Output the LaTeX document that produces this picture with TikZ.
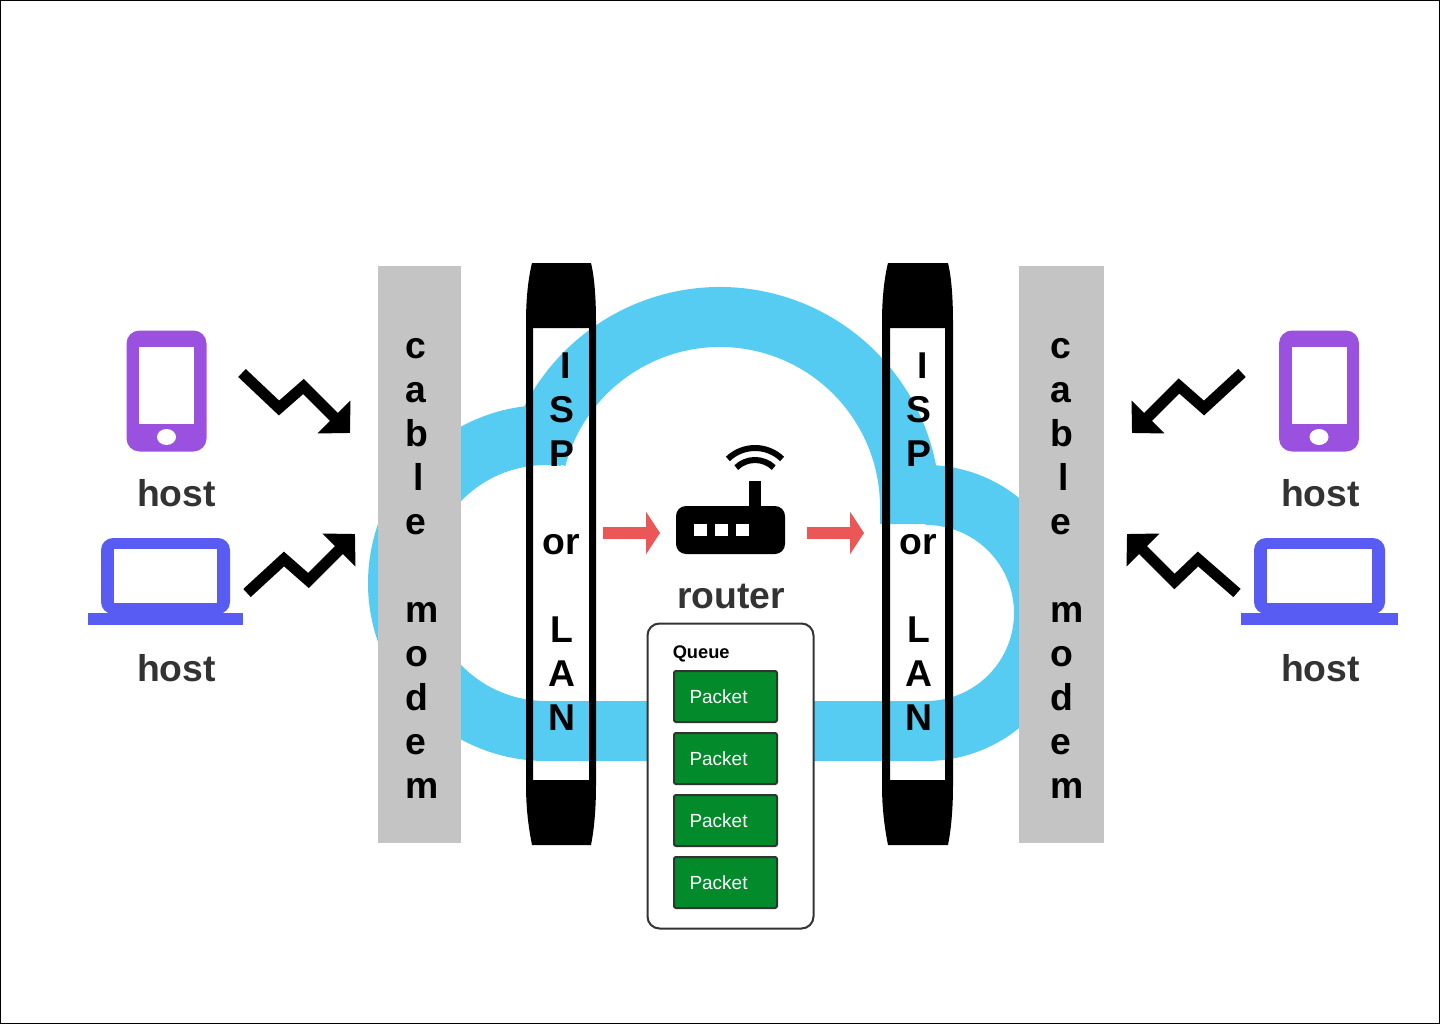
\documentclass[tikz,border=0pt]{standalone}
\usepackage{fontspec}
\setmainfont{Liberation Sans}
\usetikzlibrary{arrows.meta}
\definecolor{cloudblue}{HTML}{56CCF2}
\definecolor{barygrey}{HTML}{C4C4C4}
\definecolor{phonepurple}{HTML}{9B51E0}
\definecolor{laptopblue}{HTML}{585CF2}
\definecolor{arrowred}{HTML}{EB5757}
\definecolor{packetgreen}{HTML}{038A2A}
\definecolor{inkgrey}{HTML}{333333}
\tikzset{
	bigtext/.style={font=\bfseries\fontsize{28}{33}\selectfont},
	hostlabel/.style={bigtext,text=inkgrey,anchor=base,inner sep=0pt},
	bartext/.style={bigtext,align=left,inner sep=0pt},
	pipetext/.style={bigtext,align=center,inner sep=0pt},
	modembar/.style={fill=barygrey,draw=none,minimum height=432.75pt,inner sep=0pt},
	zigzag/.style={line width=8.25pt,-{Triangle[length=17pt,width=34pt]}},
	redarrow/.style={arrowred,line width=9pt,-{Triangle[length=10.5pt,width=31.5pt]}},
	packetbox/.style={fill=packetgreen,draw=inkgrey,line width=1.5pt,rounded corners=1.5pt,
		minimum width=77.25pt,minimum height=38.25pt,text width=54pt,inner xsep=10.75pt,inner ysep=0pt,
		align=left,text=white,font=\fontsize{14.25}{16}\selectfont}
}
\begin{document}
\begin{tikzpicture}[x=0.75pt,y=-0.75pt]
	\useasboundingbox (0,0) rectangle (1440,1024);
	\draw[black,line width=1.5pt] (0,0) rectangle (1440,1024);
	% cloud
	\draw[cloudblue,line width=45pt] (926,495) arc (270:450:118) -- (546,731) arc (90:277:148);
	\draw[cloudblue,line width=45pt] (720,507) ++(195:190) arc (195:360:190) -- ++(0,17);
	% modem bars
	\node[modembar,minimum width=62.25pt] (modemL) at (419.5,554.5) {};
	\node[modembar,minimum width=63.75pt] (modemR) at (1061.5,554.5) {};
	\node[bartext,anchor=west] (modemtextL) at (405,568.5) {c\\a\\b\\\hspace{6.5pt}l\\e\\~\\m\\o\\d\\e\\m};
	\node[bartext,anchor=west] (modemtextR) at (1050,568.5) {c\\a\\b\\\hspace{6.5pt}l\\e\\~\\m\\o\\d\\e\\m};
	% pipes
	\foreach \dx/\ow/\il in {0/0/0,356/1/1}{
		\fill[black,even odd rule] (\dx+532,263) -- (\dx+\ow+591,263) .. controls (\dx+\ow+594,275) and (\dx+\ow+596,295) .. (\dx+\ow+596,322)
			-- (\dx+\ow+596,785) .. controls (\dx+\ow+596,810) and (\dx+\ow+594,830) .. (\dx+\ow+591,845)
			-- (\dx+532,845) .. controls (\dx+529,830) and (\dx+526,810) .. (\dx+526,785)
			-- (\dx+526,322) .. controls (\dx+526,295) and (\dx+529,275) .. (\dx+532,263) -- cycle
			(\dx+\il+533,328) rectangle (\dx+589,780);
	}
	\node[pipetext] (ispL) at (561.5,542) {\hspace{6pt}I\\S\\P\\~\\or\\~\\L\\A\\N};
	\node[pipetext] (ispR) at (918.5,542) {\hspace{6pt}I\\S\\P\\~\\or\\~\\L\\A\\N};
	% phones
	\foreach \dx in {0,1152.5}{
		\fill[phonepurple,rounded corners=9.75pt] (\dx+126.5,330.5) rectangle (\dx+206.5,451.5);
		\fill[white] (\dx+139,347) rectangle (\dx+194,424);
		\fill[white] (\dx+166.5,437) ellipse (9.5 and 8);
	}
	% laptops
	\fill[laptopblue,rounded corners=9pt] (101,538) rectangle (230,614);
	\fill[white] (114,549) rectangle (217,603);
	\fill[laptopblue] (88,613) rectangle (243,625);
	\fill[laptopblue,rounded corners=9pt] (1254,538) rectangle (1385,614);
	\fill[white] (1267,549) rectangle (1372,603);
	\fill[laptopblue] (1241,613) rectangle (1398,625);
	% host labels
	\node[hostlabel] (hostA) at (176.5,506) {host};
	\node[hostlabel] (hostB) at (176.5,681) {host};
	\node[hostlabel] (hostC) at (1320.5,506) {host};
	\node[hostlabel] (hostD) at (1320.5,681) {host};
	% zigzag arrows
	\coordinate (phoneoutL) at (242,373);
	\coordinate (phoneinL) at (350,433);
	\coordinate (laptopoutL) at (247,593);
	\coordinate (laptopinL) at (355,534);
	\coordinate (phoneoutR) at (1242,373);
	\coordinate (phoneinR) at (1132,433);
	\coordinate (laptopoutR) at (1237,593);
	\coordinate (laptopinR) at (1127,534);
	\draw[zigzag] (phoneoutL) -- (279,408) -- (303.5,386.5) -- (phoneinL);
	\draw[zigzag] (laptopoutL) -- (284,559) -- (308.5,580.5) -- (laptopinL);
	\draw[zigzag] (phoneoutR) -- (1204,408) -- (1179,386) -- (phoneinR);
	\draw[zigzag] (laptopoutR) -- (1198,559) -- (1174.5,581.5) -- (laptopinR);
	% router
	\node[fill=black,rounded corners=7.5pt,minimum width=81.75pt,minimum height=36pt,inner sep=0pt] (router) at (730.5,530) {};
	\fill[black] (749,481) rectangle (761,507);
	\foreach \px in {694,715,736}{
		\fill[white] (\px,524) rectangle (\px+12.5,536);
	}
	\draw[black,line width=4.5pt] (755,487) ++(226:39) arc (226:314:39);
	\draw[black,line width=4.5pt] (755,487) ++(226:27) arc (226:314:27);
	\node[hostlabel] (routerlabel) at (731,608) {router};
	\coordinate (pipeoutL) at (603,533);
	\coordinate (routerinL) at (660,533);
	\coordinate (routerout) at (807,533);
	\coordinate (pipeinR) at (864,533);
	\draw[redarrow] (pipeoutL) -- (routerinL);
	\draw[redarrow] (routerout) -- (pipeinR);
	% queue
	\node[fill=white,draw=inkgrey,line width=1.5pt,rounded corners=9pt,minimum width=124.5pt,minimum height=228.75pt,inner sep=0pt] (queue) at (730.5,776) {};
	\node[anchor=base west,inner sep=0pt,font=\bfseries\fontsize{13.7}{16}\selectfont] (queuelabel) at (672.5,658) {Queue};
	\foreach \i/\py in {1/696.5,2/758.5,3/820.5,4/882.5}{
		\node[packetbox] (packet\i) at (725.5,\py) {Packet};
	}
\end{tikzpicture}
\end{document}
